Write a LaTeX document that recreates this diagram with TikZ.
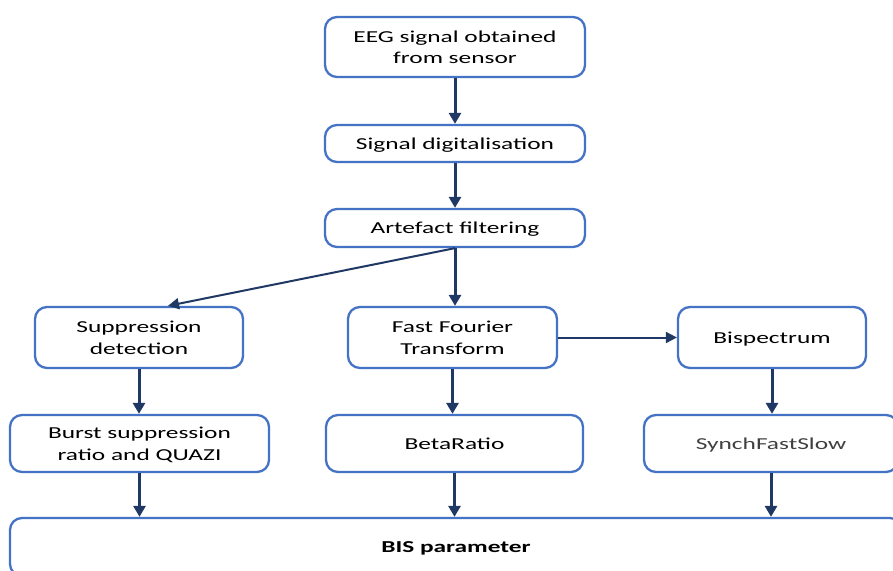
\documentclass[tikz,border=0pt]{standalone}
\usepackage{fontspec}
\setmainfont[FakeStretch=1.52]{Carlito}
\usetikzlibrary{arrows.meta}
\definecolor{boxblue}{HTML}{4472C4}
\definecolor{arrnavy}{HTML}{203864}
\definecolor{txtgrey}{HTML}{404040}
\begin{document}
\begin{tikzpicture}[x=1pt,y=-1pt,
  box/.style={draw=boxblue, line width=2.3pt, rounded corners=12pt, fill=white,
    align=center, inner sep=0pt, text depth=0pt, font=\fontsize{16.7}{21.5}\selectfont},
  flow/.style={draw=arrnavy, line width=3pt, -{Triangle[length=11pt,width=12pt]}},
  thinflow/.style={draw=arrnavy, line width=2pt, -{Triangle[length=11pt,width=11pt]}}]
\useasboundingbox (0,0) rectangle (893,570);
\clip (0,0) rectangle (893,570);
\fill[white] (0,0) rectangle (893,570);
\node[box, minimum width=260pt, minimum height=60pt] (eeg) at (455,47) {EEG signal obtained\\from sensor};
\node[box, minimum width=260pt, minimum height=37pt] (dig) at (455,143.5) {Signal digitalisation};
\node[box, minimum width=260pt, minimum height=38pt] (art) at (455,228) {Artefact filtering};
\node[box, minimum width=208pt, minimum height=61pt] (sup) at (139,337.5) {Suppression\\detection};
\node[box, minimum width=209pt, minimum height=61pt] (fft) at (452.5,337.5) {Fast Fourier\\Transform};
\node[box, minimum width=188pt, minimum height=61pt] (bsp) at (772,337.5) {Bispectrum};
\node[box, minimum width=259pt, minimum height=57pt] (bur) at (139.5,443.5) {Burst suppression\\ratio and QUAZI};
\node[box, minimum width=257pt, minimum height=57pt] (beta) at (454.5,443.5) {BetaRatio};
\node[box, minimum width=254pt, minimum height=57pt, text=txtgrey] (syn) at (771,443.5) {SynchFastSlow};
\node[box, minimum width=892pt, minimum height=58pt, font=\fontsize{16.7}{21.5}\selectfont\bfseries] (bis) at (456,547) {BIS parameter};
\draw[flow] (eeg.south) -- (dig.north);
\draw[flow] (dig.south) -- (art.north);
\draw[flow] (art.south) -- (art.south |- fft.north);
\draw[thinflow] (art.south) -- ([xshift=29pt]sup.north);
\draw[thinflow] (fft.east) -- (bsp.west);
\draw[flow] (sup.south) -- (bur.north -| sup.south);
\draw[flow] (fft.south) -- (beta.north -| fft.south);
\draw[flow] (bsp.south) -- (syn.north -| bsp.south);
\draw[flow] (bur.south) -- (bis.north -| bur.south);
\draw[flow] (beta.south) -- (bis.north -| beta.south);
\draw[flow] (syn.south) -- (bis.north -| syn.south);
\end{tikzpicture}
\end{document}
